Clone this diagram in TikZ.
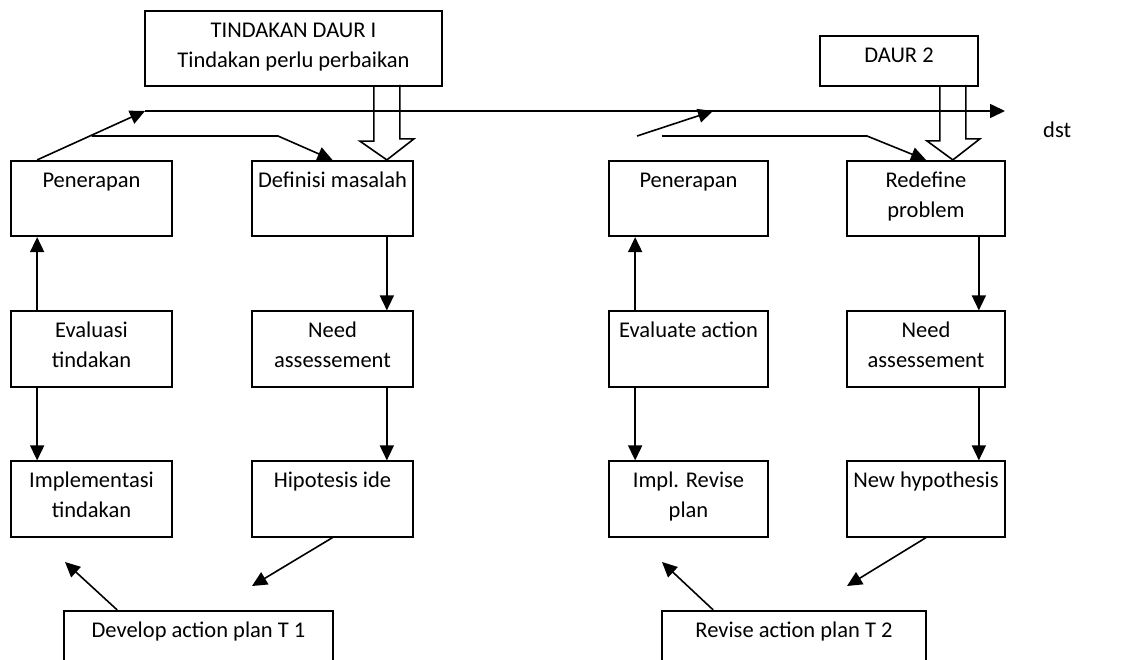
\documentclass[tikz,border=0pt]{standalone}
\usepackage{fontspec}
\setmainfont{Carlito}
\usetikzlibrary{arrows.meta}
\begin{document}
\begin{tikzpicture}[x=1pt,y=-1pt,
  box/.style={draw, line width=1.7pt, rectangle, inner sep=0pt, minimum height=75.5pt},
  txt/.style={anchor=north, inner sep=0pt, align=center, font=\fontsize{22.5}{30}\selectfont},
  arr/.style={line width=1.6pt, -{Triangle[length=15pt,width=14pt]}},
  ln/.style={line width=1.6pt, line join=miter}]
\useasboundingbox (0,0) rectangle (1129,659);
\clip (0,0) rectangle (1129,659);
% cycle 1 boxes
\node[box, minimum width=297pt] (top1) at (293.5,48.5) {};
\node[box, minimum width=161pt] (pen1) at (91.5,198.5) {};
\node[box, minimum width=161pt] (def) at (332.5,198.5) {};
\node[box, minimum width=161pt] (eva1) at (91.5,349) {};
\node[box, minimum width=161pt] (need1) at (332.5,349) {};
\node[box, minimum width=161pt] (impl1) at (91.5,499) {};
\node[box, minimum width=161pt] (hip) at (332.5,499) {};
\node[box, minimum width=269pt] (dev) at (198.5,648.5) {};
% cycle 2 boxes
\node[box, minimum width=158pt, minimum height=50pt] (daur2) at (899,61) {};
\node[box, minimum width=159pt] (pen2) at (688.5,198.5) {};
\node[box, minimum width=158pt] (redef) at (926,198.5) {};
\node[box, minimum width=159pt] (eva2) at (688.5,349) {};
\node[box, minimum width=158pt] (need2) at (926,349) {};
\node[box, minimum width=159pt] (impl2) at (688.5,499) {};
\node[box, minimum width=158pt] (newh) at (926,499) {};
\node[box, minimum width=264pt] (rev) at (794,648.5) {};
% texts
\node[txt] (top1t) at ([yshift=-6pt]top1.north) {\strut TINDAKAN DAUR I\\Tindakan perlu perbaikan};
\node[txt] (pen1t) at ([yshift=-6pt]pen1.north) {\strut Penerapan};
\node[txt] (deft) at ([yshift=-6pt]def.north) {\strut Definisi masalah};
\node[txt] (eva1t) at ([yshift=-6pt]eva1.north) {\strut Evaluasi\\tindakan};
\node[txt] (need1t) at ([yshift=-6pt]need1.north) {\strut Need\\assessement};
\node[txt] (impl1t) at ([yshift=-6pt]impl1.north) {\strut Implementasi\\tindakan};
\node[txt] (hipt) at ([yshift=-6pt]hip.north) {\strut Hipotesis ide};
\node[txt] (devt) at ([yshift=-6pt]dev.north) {\strut Develop action plan T 1};
\node[txt] (daur2t) at ([yshift=-6pt]daur2.north) {\strut DAUR 2};
\node[txt] (pen2t) at ([yshift=-6pt]pen2.north) {\strut Penerapan};
\node[txt] (redeft) at ([yshift=-6pt]redef.north) {\strut Redefine\\problem};
\node[txt] (eva2t) at ([yshift=-6pt]eva2.north) {\strut Evaluate action};
\node[txt] (need2t) at ([yshift=-6pt]need2.north) {\strut Need\\assessement};
\node[txt] (impl2t) at ([yshift=-6pt]impl2.north) {\strut Impl. Revise\\plan};
\node[txt] (newht) at ([yshift=-6pt]newh.north) {\strut New hypothesis};
\node[txt] (revt) at ([yshift=-6pt]rev.north) {\strut Revise action plan T 2};
\node[anchor=base west, inner sep=0pt, font=\fontsize{22.5}{30}\selectfont] (dst) at (1043,137) {dst};
% free points
\coordinate (m1) at (145,111);
\coordinate (mend) at (1005,111);
\coordinate (j1) at (91.5,136);
\coordinate (k1) at (278,136);
\coordinate (r1s) at (637,136);
\coordinate (r1t) at (713,111);
\coordinate (r2s) at (662,136);
\coordinate (k2) at (867,136);
\coordinate (h1) at (252,586);
\coordinate (d1) at (65,562);
\coordinate (h2) at (847,586);
\coordinate (d2) at (662,562);
% top flow
\draw[arr] ([xshift=27pt]pen1.north west) -- (m1);
\draw[arr] (m1) -- (mend);
\draw[arr] (j1) -- (k1) -- (def.north);
\draw[arr] (r1s) -- (r1t);
\draw[arr] (r2s) -- (k2) -- (redef.north);
% block arrows
\coordinate (b1) at ([xshift=-56pt]top1.south east);
\draw[ln] (b1) ++(-13,0) -- ++(0,54) -- ++(-14,0) -- ([xshift=-27pt]def.north east) -- ++(27,-21) -- ++(-14,0) -- ++(0,-54);
\coordinate (b2) at ([xshift=-26pt]daur2.south east);
\draw[ln] (b2) ++(-13,0) -- ++(0,54) -- ++(-13,0) -- ([xshift=-53pt]redef.north east) -- ++(27,-21) -- ++(-14,0) -- ++(0,-54);
% vertical arrows cycle 1
\draw[arr] ([xshift=27pt]eva1.north west) -- ([xshift=27pt]pen1.south west);
\draw[arr] ([xshift=27pt]eva1.south west) -- ([xshift=27pt]impl1.north west);
\draw[arr] ([xshift=-27pt]def.south east) -- ([xshift=-27pt]need1.north east);
\draw[arr] ([xshift=-27pt]need1.south east) -- ([xshift=-27pt]hip.north east);
% vertical arrows cycle 2
\draw[arr] ([xshift=27pt]eva2.north west) -- ([xshift=27pt]pen2.south west);
\draw[arr] ([xshift=27pt]eva2.south west) -- ([xshift=27pt]impl2.north west);
\draw[arr] ([xshift=-27pt]redef.south east) -- ([xshift=-27pt]need2.north east);
\draw[arr] ([xshift=-27pt]need2.south east) -- ([xshift=-27pt]newh.north east);
% bottom diagonals
\draw[arr] (hip.south) -- (h1);
\draw[arr] ([xshift=54pt]dev.north west) -- (d1);
\draw[arr] (newh.south) -- (h2);
\draw[arr] ([xshift=52pt]rev.north west) -- (d2);
\end{tikzpicture}
\end{document}
